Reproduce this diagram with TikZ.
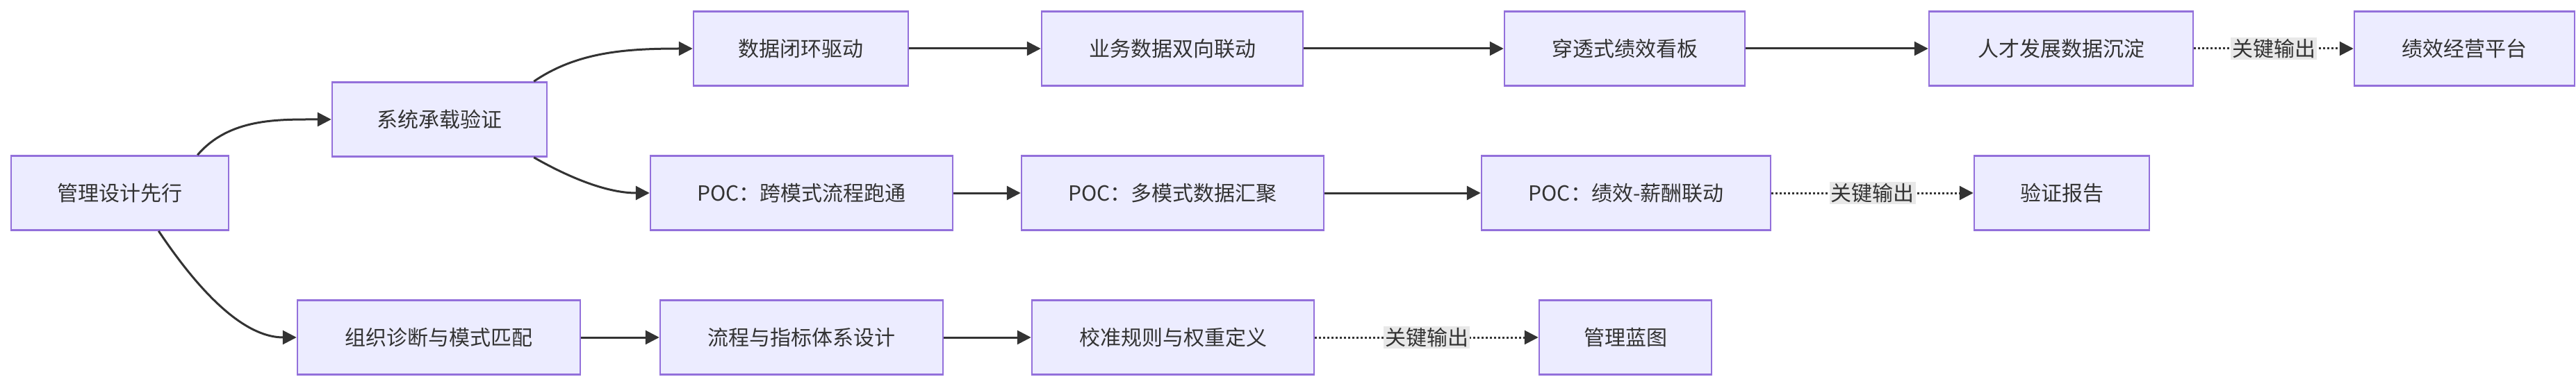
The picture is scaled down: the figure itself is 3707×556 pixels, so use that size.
\documentclass[tikz,border=0pt]{standalone}
\usepackage{fontspec}
\setmainfont{Noto Sans CJK SC}
\usetikzlibrary{arrows.meta}
\definecolor{bfill}{HTML}{ECECFF}
\definecolor{bline}{HTML}{9370DB}
\definecolor{eline}{HTML}{333333}
\definecolor{lbg}{HTML}{E8E8E8}
\begin{document}
\begin{tikzpicture}[x=1pt,y=-1pt,
  box/.style={draw=bline,fill=bfill,line width=2.5pt,minimum height=107pt,inner sep=0pt,font=\fontsize{30}{36}\selectfont,text=eline},
  e/.style={draw=eline,line width=3pt,-{Triangle[length=20pt,width=20pt]}},
  d/.style={e,dash pattern=on 3pt off 3pt},
  lab/.style={fill=lbg,inner sep=2pt,font=\fontsize{30}{36}\selectfont,text=eline}]
\useasboundingbox (0,0) rectangle (3707,556);
\node[box,minimum width=313pt] (a) at (172.5,278) {管理设计先行};
\node[box,minimum width=309pt] (b) at (632.5,172) {系统承载验证};
\node[box,minimum width=309pt] (c) at (1152.5,70) {数据闭环驱动};
\node[box,minimum width=376pt] (d1) at (1687,70) {业务数据双向联动};
\node[box,minimum width=346pt] (e1) at (2338,70) {穿透式绩效看板};
\node[box,minimum width=380pt] (f) at (2966,70) {人才发展数据沉淀};
\node[box,minimum width=317pt] (g) at (3546.5,70) {绩效经营平台};
\node[box,minimum width=435pt] (p1) at (1153.5,278) {POC：跨模式流程跑通};
\node[box,minimum width=435pt] (p2) at (1687.5,278) {POC：多模式数据汇聚};
\node[box,minimum width=416pt] (p3) at (2340,278) {POC：绩效-薪酬联动};
\node[box,minimum width=252pt] (v) at (2967,278) {验证报告};
\node[box,minimum width=407pt] (o1) at (631.5,486) {组织诊断与模式匹配};
\node[box,minimum width=407pt] (o2) at (1153.5,486) {流程与指标体系设计};
\node[box,minimum width=406pt] (o3) at (1688,486) {校准规则与权重定义};
\node[box,minimum width=248pt] (m) at (2339,486) {管理蓝图};
\draw[e] ([xshift=-46pt]a.north east) .. controls (330,170) and (400,172) .. (b.west);
\draw[e] ([xshift=-20pt]b.north east) .. controls (830,75) and (900,70) .. (c.west);
\draw[e] ([xshift=-20pt]b.south east) .. controls (830,262) and (880,278) .. (p1.west);
\draw[e] ([xshift=-102pt]a.south east) .. controls (300,440) and (360,486) .. (o1.west);
\draw[e] (c) -- (d1);
\draw[e] (d1) -- (e1);
\draw[e] (e1) -- (f);
\draw[d] (f) -- node[lab]{关键输出} (g);
\draw[e] (p1) -- (p2);
\draw[e] (p2) -- (p3);
\draw[d] (p3) -- node[lab]{关键输出} (v);
\draw[e] (o1) -- (o2);
\draw[e] (o2) -- (o3);
\draw[d] (o3) -- node[lab]{关键输出} (m);
\end{tikzpicture}
\end{document}
